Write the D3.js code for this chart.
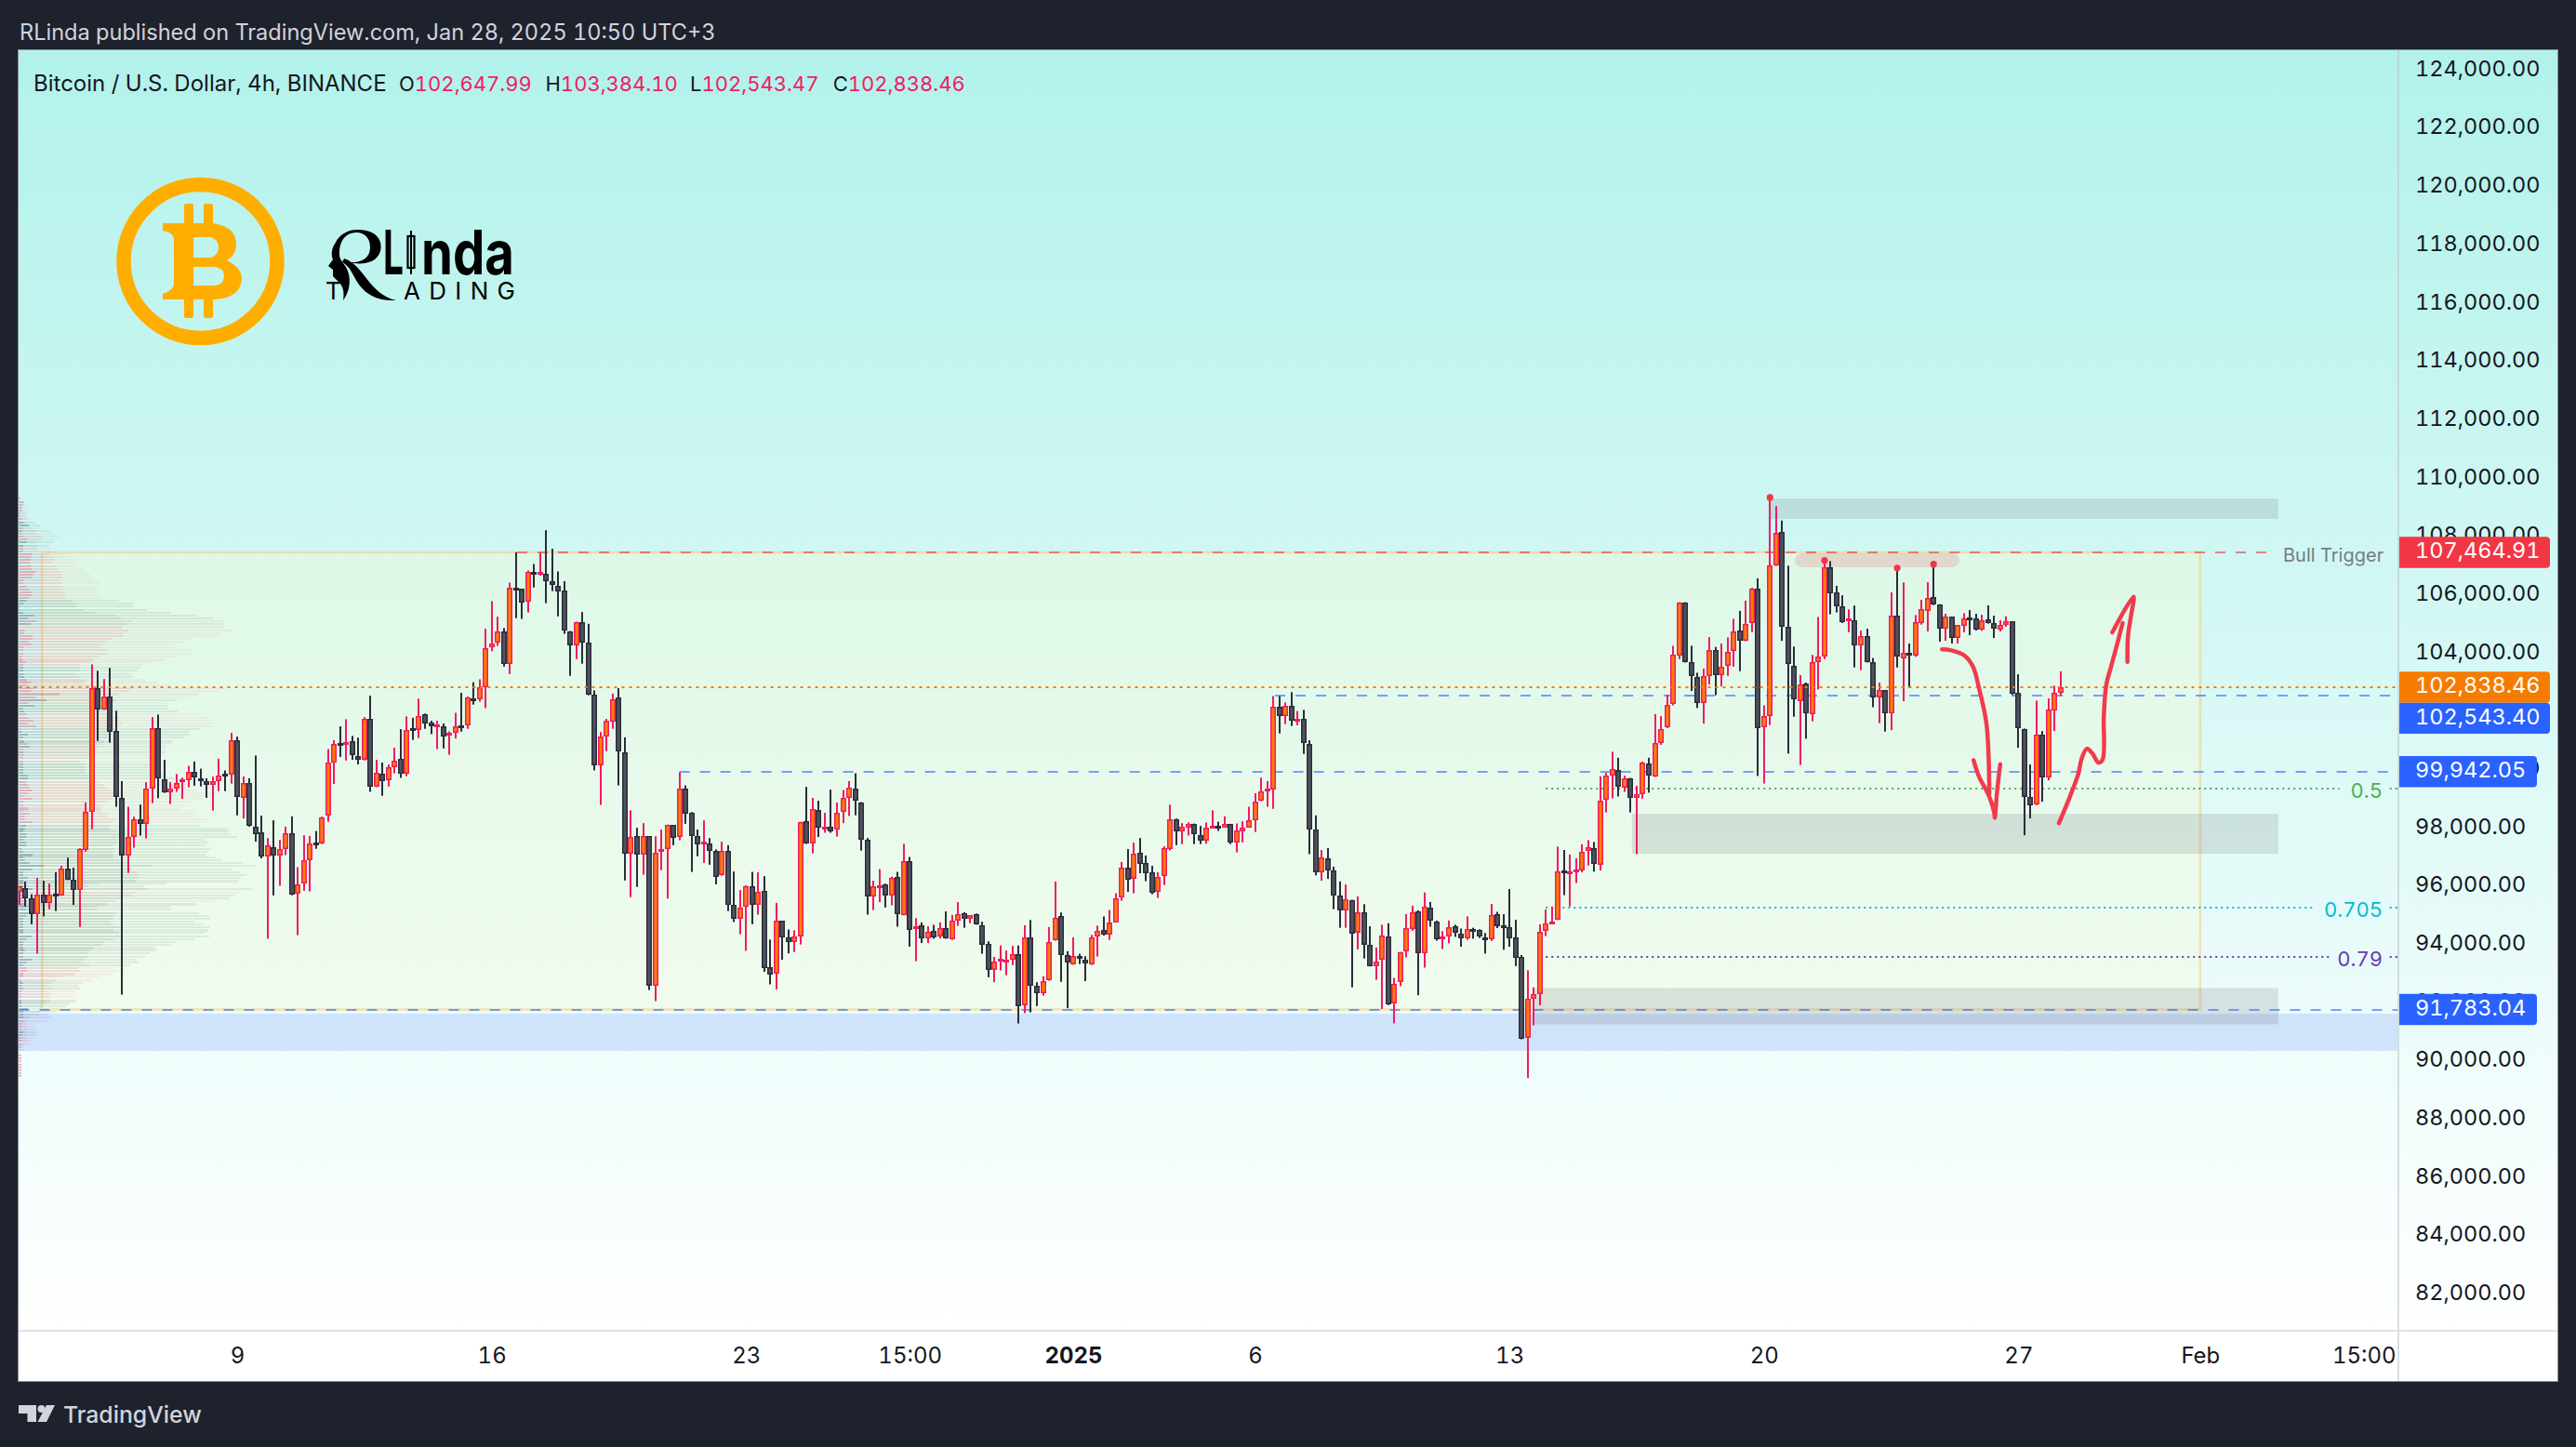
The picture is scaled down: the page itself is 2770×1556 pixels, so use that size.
<!DOCTYPE html>
<html><head><meta charset="utf-8">
<script src="https://cdnjs.cloudflare.com/ajax/libs/d3/7.8.5/d3.min.js"></script>
<style>html,body{margin:0;padding:0;background:#1E222D}svg{display:block}text{font-family:Inter,"Noto Sans",sans-serif;font-variant-numeric:tabular-nums}</style>
</head><body><svg id="c" width="2770" height="1556"></svg>
<script>
const priceTicks=[82000,84000,86000,88000,90000,92000,94000,96000,98000,100000,104000,106000,108000,110000,112000,114000,116000,118000,120000,122000,124000];
const timeTickBars=[36,78,120,147,174,204,246,288,330,360,387];
const timeTickLabels=["9","16","23","15:00","2025","6","13","20","27","Feb","15:00"];
// open, high, low, close per 4h bar
const candles=[
[95807,96015,95368,96015],[95954,96174,95319,95588],[95588,95734,94708,95038],[95038,96296,93695,95710],[95710,96198,94977,95429],[95429,96100,95221,95734],[95760,96491,95160,95747],[95685,96711,95685,96625],[96625,96992,96222,96222],[96222,96650,95368,95868],
[95868,97321,94611,97273],[97260,98884,97199,98579],[98555,103622,97969,102816],[102816,103402,100997,102059],[102059,103121,102059,102511],[102511,103500,100936,101302],[101326,102034,98738,99068],[99031,99617,92291,97077],[97077,98738,96467,97688],[97688,98396,97333,98298],
[98298,98811,97749,98164],[98164,99580,97651,99373],[99348,101815,98860,101424],[101424,101900,99031,99702],[99666,100350,99214,99226],[99226,99580,98835,99348],[99348,99861,99251,99568],[99642,99739,99007,99666],[99654,100142,99409,99947],[99947,100289,99458,99739],
[99727,100044,99434,99642],[99617,99715,99043,99483],[99483,99776,98604,99605],[99605,100386,99275,99812],[99861,99983,99275,99837],[99837,101277,99531,101021],[101009,101143,98445,99068],[99043,99776,98335,99556],[99556,99715,98054,98091],[98066,100496,97541,97785],
[97846,98433,96967,97028],[97028,97663,94208,97419],[97358,98274,95697,97053],[97053,97602,96027,97297],[97297,98054,97077,97834],[97834,98408,95700,95710],[95747,96662,94330,96076],[96100,97761,95856,96894],[96894,97737,95832,97480],[97517,97907,97297,97492],
[97468,98400,97460,98384],[98445,100716,98225,100264],[100252,101021,99519,100899],[100936,101497,100447,100911],[100911,101741,100325,100960],[100997,101168,100350,100496],[100484,101107,100191,100337],[100337,101815,100325,101741],[101741,102547,99251,99421],[99421,100350,99410,99910],
[99885,100252,99116,99629],[99642,100191,99434,100081],[100081,100765,99885,100325],[100374,101400,99727,99861],[99861,101839,99788,101363],[101424,101790,101033,101400],[101363,102450,101094,101851],[101900,101937,101412,101607],[101619,101692,101229,101485],[101546,101692,100716,101570],
[101510,101595,100740,101155],[101168,101326,100520,101265],[101265,101961,101082,101510],[101546,102645,101314,101522],[101522,102523,101412,102498],[102462,103011,102242,102413],[102413,103109,102340,102840],[102853,104843,102120,104171],[104196,105795,104074,104330],[104367,105258,104257,104757],
[104757,104867,103548,103634],[103646,106430,103292,106259],[106259,107468,105209,106210],[106210,106220,105185,105734],[105771,106845,105404,106784],[106784,107065,106259,106760],[106747,107456,106662,106784],[106747,108225,105722,106491],[106491,107590,106137,106357],[106308,106809,105270,106137],
[106149,106479,104672,104794],[104757,104769,103231,104281],[104281,105087,103805,105062],[105087,105417,103646,104367],[104379,105014,102560,102572],[102572,102730,99983,100166],[100166,101302,98799,101155],[101143,101754,100643,101680],[101656,102621,101412,102437],[102474,102804,99470,100630],
[100594,101119,96210,97114],[97138,98616,95636,97688],[97724,98018,95990,97090],[97090,98176,96406,97724],[97724,97730,92450,92584],[92584,97724,92071,97175],[97248,97956,96564,97273],[97273,98127,95588,98103],[98103,98110,97419,97663],[97688,99922,97590,99348],
[99348,99470,98152,98506],[98530,98555,96503,97724],[97724,97956,97041,97431],[97492,98274,96809,97529],[97492,97663,96748,97212],[97212,97273,96076,96320],[96381,97541,96370,97224],[97236,97419,95160,95368],[95380,96516,94782,94880],[94880,95881,94367,95283],
[95307,96040,93793,96015],[96015,96503,94708,95380],[95368,96491,95038,95832],[95856,96357,93072,93195],[93219,94183,92645,92975],[93000,95441,92474,94818],[94818,94830,93488,94244],[94244,94525,93707,94086],[94086,94501,93756,94293],[94293,98220,94012,98213],
[98249,99421,97460,97468],[97468,99043,97138,98665],[98640,98945,97700,98018],[98042,98530,97846,98066],[98042,99324,97846,97883],[97944,98884,97712,98542],[98555,99312,98176,99031],[99031,99617,98420,99397],[99373,99885,98445,98958],[98897,98900,97236,97590],
[97590,97663,95038,95649],[95649,96198,95197,96003],[95966,96601,95465,96052],[96064,96100,95283,95685],[95685,96344,95356,96308],[96344,96503,94623,95063],[95026,97468,95010,96882],[96882,97016,93939,94501],[94538,94916,93439,94648],[94684,94770,94061,94220],
[94220,94635,94061,94452],[94489,94684,94208,94244],[94281,94770,94220,94586],[94586,95148,94208,94220],[94196,95026,94171,94818],[94818,95465,94648,95063],[95075,95124,94586,94904],[94904,95020,94745,95014],[95038,95075,94690,94696],[94684,94794,93695,94012],
[94024,94122,92889,93133],[93133,93585,92718,93427],[93476,93980,93121,93512],[93414,93805,92962,93500],[93500,93964,93304,93695],[93695,93980,91302,91888],[91912,94672,91656,94269],[94269,94855,91680,92608],[92608,92718,91900,92352],[92352,92926,92254,92767],
[92779,94611,92770,94110],[94147,96174,94140,94916],[94977,95111,92731,93646],[93658,93781,91827,93390],[93341,94257,93317,93622],[93610,93695,93341,93512],[93500,93610,92755,93353],[93341,94342,93304,94269],[94281,94660,93598,94489],[94525,94977,94318,94367],
[94367,95197,94171,94757],[94782,95771,94770,95588],[95612,96845,95514,96662],[96662,97285,95820,96247],[96259,97505,95771,97114],[97150,97663,96455,96784],[96796,97065,96186,96467],[96479,96711,95734,95795],[95832,96491,95612,96320],[96357,97382,96052,97309],
[97297,98811,97236,98310],[98298,98335,97419,97883],[97883,98176,97456,98042],[98030,98200,97749,98152],[98152,98160,97456,97785],[97773,98079,97456,97566],[97566,98200,97468,98030],[98066,98616,98030,98091],[98091,98225,97907,98066],[98030,98408,98020,98140],
[98140,98150,97456,97517],[97517,98164,97175,97932],[97907,98237,97517,98030],[98030,98738,98020,98286],[98262,99202,97871,98921],[98933,99739,98925,99275],[99324,99617,98738,99348],[99324,102535,98665,102181],[102157,102535,101253,101839],[101851,102315,101570,102206],
[102206,102669,101510,101680],[101741,102022,101534,101766],[101747,102060,100549,100914],[100888,101018,97112,97971],[97945,98440,96383,96487],[96487,97255,96201,97008],[96982,97320,96266,96552],[96539,96682,95224,95680],[95706,96175,94586,95185],[95185,96070,94586,95550],
[95524,95550,92542,94378],[94430,95667,93844,95107],[95107,95393,93531,94000],[93987,94638,93258,93271],[93271,93909,92802,93440],[93492,94690,91800,94313],[94274,94742,91930,91943],[91982,92868,91305,92672],[92711,93760,92581,93753],[93779,95055,93571,94560],
[94534,95341,94482,95107],[95146,95185,92269,93727],[93727,95797,93219,95315],[95289,95471,94625,94820],[94794,94833,94143,94182],[94248,94469,93857,94274],[94274,94833,94052,94612],[94638,94690,94274,94417],[94391,94560,93935,94222],[94209,94977,94170,94534],
[94534,94586,94209,94508],[94508,94534,94235,94274],[94248,94404,93701,94209],[94182,95406,94130,95016],[95042,95133,94573,94625],[94664,95055,93831,94638],[94599,95914,93935,94235],[94248,94859,93271,93557],[93583,93648,90758,90771],[90810,93128,89430,92138],
[92165,92542,91240,92295],[92308,94703,91930,94456],[94469,95211,94300,94742],[94742,95315,94730,94807],[94859,97372,94850,96513],[96539,97255,95706,96487],[96487,97099,95315,96526],[96539,96969,96122,96578],[96539,97450,96487,97203],[97216,97594,96721,97346],
[97307,97529,96513,96786],[96747,99781,96552,98961],[98987,99898,98544,99794],[99794,100627,99026,100041],[100002,100419,99091,99416],[99377,99807,99247,99716],[99716,99730,98544,99039],[99039,99456,97112,99182],[99169,100289,99013,100250],[100211,100419,99221,99807],
[99768,101916,99760,100914],[100914,101851,100862,101409],[101461,102580,101435,102242],[102255,104260,102216,103947],[103934,105757,103804,105731],[105731,105757,103687,103713],[103713,104260,102711,103231],[103192,103336,102125,102307],[102294,103479,101591,103231],[103218,104559,102932,104104],
[104104,104221,102567,103244],[103244,104338,102867,103544],[103557,104546,103231,104065],[104091,105184,103544,104755],[104794,105458,103388,104442],[104442,105809,104416,105015],[105028,106252,104729,106226],[106226,106577,99794,101435],[101461,102216,99534,101851],[101851,109351,101539,107007],
[107020,109051,107000,108140],[108153,108557,104429,104911],[104898,107007,100562,103622],[103583,104234,101825,102424],[102372,103257,100172,102932],[102958,102997,101070,101955],[101903,103947,101669,103687],[103700,105249,102763,103895],[103882,107189,103804,106968],[106942,107163,105341,106057],
[106096,106317,105406,105601],[105601,105992,105041,105080],[105158,105510,104729,105184],[105145,105640,103518,104260],[104273,104781,103427,104598],[104598,104846,103687,103713],[103713,103843,102151,102476],[102476,102997,101604,102737],[102737,102745,101317,101955],[101942,106096,101369,105302],
[105302,106929,103518,103882],[103817,106434,102359,104013],[104013,104338,102828,103987],[103908,105315,103882,105080],[105039,105837,104986,105518],[105465,106443,104752,105890],[105922,107059,105656,105677],[105677,105690,104401,104858],[104858,105358,104433,105252],[105252,105260,104337,104539],
[104539,104975,104337,104965],[104933,105379,104720,105188],[105220,105486,104624,105188],[105188,105358,104784,104826],[104826,105326,104773,105145],[105156,105645,105020,105028],[105028,105294,104528,104858],[104826,105135,104752,104986],[104975,105273,104911,105092],[105092,105100,102581,102613],
[102634,103283,100762,101421],[101400,101421,97761,99081],[99059,100187,98336,98793],[98815,102379,98793,101198],[101198,101336,98910,99751],[99751,102453,99645,102060],[102028,102890,101336,102634],[102647.99,103384.10,102543.47,102838.46]
];
const swingBars=[289,298,310,316];
const swingPrices=[109351,107189,106929,107059];
// Volume profile: one row per $100 from the top price downward
const profileTopPrice=109300, profileStep=100;
const profilePale=[20,33,38,45,45,48,48,58,70,85,92,115,128,147,135,128,115,120,138,170,188,210,192,198,222,233,248,252,260,276,272,276,270,272,282,338,387,387,428,504,590,645,684,675,678,708,669,651,573,552,516,525,576,570,519,489,453,414,405,396,378,384,426,465,504,
680,660,597,570,525,492,497,497,528,605,633,638,650,638,600,566,566,550,510,510,490,490,490,480,465,460,440,445,440,480,490,520,540,560,570,580,655,648,610,575,550,540,585,590,580,627,620,600,690,695,700,720,620,628,615,635,625,620,650,670,738,780,700,730,750,730,725,
490,420,768,728,714,695,645,588,505,510,597,630,632,582,612,632,627,615,630,582,522,507,456,460,440,422,396,402,375,326,347,312,276,252,222,207,213,198,204,200,200,180,170,110,135,110,120,105,70,66,72,72,72,60,60,50,33,33,18,24,24,24,24,24,24,24,24];
const profileMid=[20,33,28,28,28,36,36,40,42,48,55,70,75,90,90,72,75,75,82,115,130,132,122,135,138,150,155,156,145,153,155,162,162,165,168,190,210,200,225,267,327,345,378,363,348,369,351,354,315,300,288,279,303,300,273,258,245,216,210,213,198,210,234,228,250,
375,370,338,320,330,300,300,285,280,320,340,340,348,340,330,310,300,300,290,288,270,265,260,255,250,213,230,230,230,230,260,260,270,290,300,320,340,340,320,300,280,280,280,300,300,330,320,310,310,330,350,340,330,333,320,325,320,320,320,340,370,444,380,400,405,400,395,
270,240,432,396,378,350,330,300,270,265,330,322,320,312,320,342,322,340,345,322,288,285,255,243,240,240,228,222,245,205,212,195,158,135,120,110,130,110,118,115,118,105,90,45,85,80,50,45,40,40,45,42,42,40,40,35,25,22,18,24,24,24,24,24,24,24,24];
const profileInner=[20,30,28,25,25,20,20,25,30,48,30,25,25,30,42,40,30,30,28,60,55,55,50,55,58,70,62,58,33,30,40,48,58,58,50,40,30,20,20,30,66,45,72,55,15,33,33,60,60,48,57,30,30,30,27,28,40,30,30,30,30,33,42,55,40,
65,55,147,70,105,45,65,30,33,40,45,62,45,72,20,24,45,30,33,45,50,30,30,33,30,30,30,30,30,30,45,45,40,45,50,60,45,30,60,30,30,45,30,50,35,33,60,40,35,30,40,40,30,40,40,25,30,60,30,35,50,95,60,30,30,45,30,
30,30,60,40,30,30,45,40,45,40,45,40,30,30,30,30,30,30,57,40,30,30,30,35,30,30,57,40,30,40,40,30,30,24,30,25,30,24,24,24,24,24,24,45,30,30,30,30,24,24,24,30,24,24,24,24,20,18,18,24,24,24,24,24,24,24,24];
const profileKind="pppppppp"+"ggpgppp"+"gg"+"pppppppppppppppppp"+"ggg"+"gggg"+"pgPppppppppppPpp"+"ggggPpp"+"ppPpg"+"pgggpppppggggGpgpgppp"+"gggggg"+"ppppppppp"+"Pppppp"+"gGggggggggGgggggg"+"ggGgggpggpGggggggggGgggggGggggggppPpPgg"+"gpppGggggggppppggpp"+"pp"+"pppppppppp"+"pp";
const priceLabelText=["107,464.91","102,838.46","102,543.40","99,942.05","91,783.04"];
const priceLabelValue=[107464.91,102838.46,102543.40,99942.05,91783.04];
const priceLabelColor=["#F23645","#F57C00","#2962FF","#2962FF","#2962FF"];
const priceLabelRight=[2742,2742,2742,2728,2728];
const fibLevels=["0.5","0.705","0.79"];
const fibPrices=[99360,95276,93591];
const fibColors=["#4CAF50","#00BCD4","#673AB7"];
const fibEndBars=[383,378.6,381.3];
const zones=[[289.1,372.9,109316,108614],[266.2,372.9,98499,97127],[249.8,372.9,92513,91275]];
const arrowShaft1=[[317.4,104135],[318.9,104103],[321.1,103922],[322.5,103549],[323.5,102805],[324.7,101634],[325.1,100357],[325.2,99187]];
const arrowHead1=[[322.6,100336],[323.5,99772],[325.1,99134],[326,98549],[326.1,98357],[326.5,99293],[327,100198]];
const arrowShaft2=[[336.7,98176],[338.6,99134],[339.9,99879],[340.4,100357],[341.3,100730],[342.2,100570],[343.2,100251],[343.9,100357],[344.1,101847],[344.5,102911],[345.3,103549],[346.2,104241],[347.2,105039]];
const arrowHead2=[[345.5,104720],[349,105943],[348.6,105305],[348.1,104613],[348,103709]];

const svg=d3.select("#c");
const L=20,T=54,R=2750,B=1485,AX=2578,TAX=1431;
const x=d3.scaleLinear().domain([0,337]).range([20.5,2216]);
const y=d3.scaleLinear().domain([107464.91,91783.04]).range([594,1085.5]);
const vx=d3.scaleLinear().domain([0,780]).range([15,275]);
const defs=svg.append("defs");
const g=defs.append("linearGradient").attr("id","bg").attr("x1",0).attr("x2",0).attr("y1",0).attr("y2",1);
g.append("stop").attr("offset",0).attr("stop-color","#B2F2EB");
g.append("stop").attr("offset",1).attr("stop-color","#FFFFFF");
defs.append("clipPath").attr("id","pane").append("rect").attr("x",L).attr("y",T).attr("width",AX-L).attr("height",TAX-T);
svg.append("rect").attr("width",2770).attr("height",1556).attr("fill","#1E222D");
svg.append("rect").attr("x",L).attr("y",T).attr("width",R-L).attr("height",TAX-T).attr("fill","url(#bg)");
svg.append("rect").attr("x",L).attr("y",TAX).attr("width",R-L).attr("height",B-TAX).attr("fill","#fff");
svg.append("rect").attr("x",L-.5).attr("y",T-.5).attr("width",R-L+1).attr("height",B-T+1).attr("fill","none").attr("stroke","#8A8D96").attr("stroke-width",1);

const pane=svg.append("g").attr("clip-path","url(#pane)");
// blue support band
pane.append("rect").attr("x",L).attr("width",AX-L).attr("y",y(91638)).attr("height",y(90362)-y(91638)).attr("fill","#CFE3FB");
// long-term range box
pane.append("rect").attr("x",x(3.8)).attr("width",x(360)-x(3.8)).attr("y",y(107464.91)).attr("height",y(91783.04)-y(107464.91))
 .attr("fill","rgba(255,250,205,.28)").attr("stroke","rgba(240,205,130,.55)").attr("stroke-width",2.5);
// volume profile
const profileRows=d3.range(profilePale.length);
const rowY=i=>Math.round(y(profileTopPrice-i*profileStep));
const pcol=(k,lvl)=>{const up=k==="g"||k==="G";return up?["rgba(70,95,90,.1)","rgba(70,95,90,.1)","rgba(50,70,80,.25)"][lvl]:["rgba(242,54,69,.06)","rgba(242,54,69,.11)","rgba(225,40,80,.22)"][lvl];};
const pg=pane.append("g");
[profilePale,profileMid,profileInner].forEach((arr,lvl)=>{
 pg.selectAll(null).data(profileRows).join("rect")
  .attr("x",20.5).attr("y",i=>rowY(i)-1).attr("height",i=>(profileKind[i]==="P"||profileKind[i]==="G")?3:2)
  .attr("width",i=>Math.max(0,vx(arr[i])-20.5)).attr("fill",i=>pcol(profileKind[i]||"g",lvl));
});
// grey zones
pane.selectAll(null).data(zones).join("rect").attr("x",d=>x(d[0])).attr("width",d=>x(d[1])-x(d[0])).attr("y",d=>y(d[2])).attr("height",d=>y(d[3])-y(d[2])).attr("fill","rgba(120,123,134,.2)");
pane.append("rect").attr("x",x(293.1)).attr("width",x(320.3)-x(293.1)).attr("y",y(107433)).attr("height",y(106954)-y(107433)).attr("rx",8).attr("fill","rgba(242,54,69,.17)");
// horizontal levels
const hl=(b0,b1,p,col,dash,w)=>pane.append("line").attr("x1",x(b0)).attr("x2",x(b1)).attr("y1",Math.round(y(p))).attr("y2",Math.round(y(p))).attr("stroke",col).attr("stroke-width",w||2).attr("stroke-dasharray",dash);
hl(82.2,372.4,107464.91,"rgba(242,54,69,.62)","11 11");
hl(207.3,392.6,102543.40,"rgba(41,98,255,.6)","11 11");
hl(109,392.6,99942.05,"rgba(41,98,255,.6)","11 11");
hl(0,392.6,91783.04,"rgba(41,98,255,.6)","11 11");
fibPrices.forEach((p,i)=>{hl(252,fibEndBars[i],p,fibColors[i],"2 4");hl(391.3,392.6,p,fibColors[i],"2 4");
 pane.append("text").attr("x",2562).attr("y",y(p)+2).attr("dy",".35em").attr("text-anchor","end").attr("font-size",22).attr("fill",fibColors[i]).text(fibLevels[i]);});
pane.append("text").attr("x",2455).attr("y",597).attr("dy",".35em").attr("font-size",20).attr("fill","#787B86").text("Bull Trigger");
// candles
const cg=pane.append("g");
candles.forEach((d,i)=>{
 const [o,h,l,c]=d,up=c>=o,X=Math.round(x(i)),bc=up?"#F01C60":"#2A2E39",fc=up?"#FF7F00":"#50535E";
 cg.append("rect").attr("x",X-1).attr("width",2).attr("y",y(h)).attr("height",Math.max(1,y(l)-y(h))).attr("fill",bc);
 const t=Math.round(y(Math.max(o,c))),b=Math.round(y(Math.min(o,c))),H=Math.max(3,b-t);
 cg.append("rect").attr("x",X-3).attr("width",6).attr("y",t).attr("height",H).attr("fill",bc);
 if(H>3)cg.append("rect").attr("x",X-1.5).attr("width",3).attr("y",t+1.5).attr("height",H-3).attr("fill",fc);
});
hl(0,392.6,102838.46,"#F57C00","3 5");
pane.selectAll(null).data(swingBars).join("circle").attr("cx",b=>x(b)).attr("cy",(b,i)=>y(swingPrices[i])).attr("r",3.6).attr("fill","#F23645");
// red hand-drawn arrows
const ln=d3.line().x(d=>x(d[0])).y(d=>y(d[1])).curve(d3.curveCatmullRom);
[arrowShaft1,arrowHead1,arrowShaft2,arrowHead2].forEach(a=>pane.append("path").attr("d",ln(a)).attr("fill","none").attr("stroke","#F23A4C").attr("stroke-width",4.5).attr("stroke-linecap","round").attr("stroke-linejoin","round"));
// separators
svg.append("rect").attr("x",AX).attr("y",T).attr("width",2).attr("height",B-T).attr("fill","rgba(190,200,205,.6)");
svg.append("rect").attr("x",L).attr("y",TAX-1).attr("width",R-L).attr("height",2).attr("fill","#E0E3E6");
// price axis
const ya=d3.axisRight(y).tickValues(priceTicks).tickFormat(d3.format(",.2f")).tickSize(0).tickPadding(0);
const yg=svg.append("g").attr("transform","translate(2597,-2)").call(ya);
yg.select(".domain").remove();
yg.selectAll("text").attr("font-size",23.5).attr("fill","#131722").style("font-family","Inter");
// time axis
const xa=d3.axisBottom(x).tickValues(timeTickBars).tickFormat((d,i)=>timeTickLabels[i]).tickSize(0).tickPadding(0);
const xg=svg.append("g").attr("transform","translate(0,1449)").call(xa);
xg.select(".domain").remove();
xg.selectAll("text").attr("font-size",24).attr("fill","#131722").style("font-family","Inter").attr("font-weight",(d,i)=>timeTickLabels[i]==="2025"?700:400);
// price labels: stacked when they would collide
let prevCentre=-1e9;
priceLabelText.forEach((t,i)=>{
 let p=y(priceLabelValue[i]);
 if(p-prevCentre<33.4)p=prevCentre+33.4;
 prevCentre=p;
 const w=priceLabelRight[i]-2580;
 svg.append("path").attr("d",`M2580,${p-16.7}H${2580+w-4}q4,0 4,4V${p+12.7}q0,4 -4,4H2580Z`).attr("fill",priceLabelColor[i]);
 svg.append("text").attr("x",2597).attr("y",p-2).attr("dy",".35em").attr("font-size",23.5).attr("fill","#fff").text(t);
});
// header
svg.append("text").attr("x",21).attr("y",35).attr("dy",".35em").attr("font-size",23.55).attr("fill","#D1D4DC").text("RLinda published on TradingView.com, Jan 28, 2025 10:50 UTC+3");
const hy=90;
svg.append("text").attr("x",36).attr("y",hy).attr("dy",".35em").attr("font-size",24).attr("fill","#131722").text("Bitcoin / U.S. Dollar, 4h, BINANCE");
[["O","102,647.99",429],["H","103,384.10",586.5],["L","102,543.47",742],["C","102,838.46",895.7]].forEach(r=>{
 const t=svg.append("text").attr("x",r[2]).attr("y",hy).attr("dy",".35em").attr("font-size",22).attr("fill","#131722");
 t.append("tspan").text(r[0]);t.append("tspan").attr("fill","#F01C60").text(r[1]);
});
// logos
const lg=svg.append("g");
lg.append("circle").attr("cx",215.5).attr("cy",281).attr("r",82.5).attr("fill","none").attr("stroke","#FFAE00").attr("stroke-width",15.5);
lg.append("path").attr("fill","#FFAE00").attr("fill-rule","evenodd").attr("d","M175,240 L228,240 Q254,243 254,263 Q254,274 244,280 Q260,288 260,300 Q258,322 228,322 L175,322 L175,316 Q187,312 187,305 L187,258 Q187,250 175,248 Z M208,255 H226 Q235,257 235,266 Q235,275 226,277 H208 Z M208,287 H232 Q241,289 241,297 Q241,305 232,307 H208 Z");
[[198,208],[219,229]].forEach(b=>{lg.append("rect").attr("x",b[0]).attr("y",219).attr("width",b[1]-b[0]).attr("height",23).attr("rx",2).attr("fill","#FFAE00");lg.append("rect").attr("x",b[0]).attr("y",320).attr("width",b[1]-b[0]).attr("height",22).attr("rx",2).attr("fill","#FFAE00");});
lg.append("path").attr("fill","#000").attr("fill-rule","evenodd").attr("d","M360,282 C354,262 366,247 385,247 C404,247 412,258 409,270 C405,284 388,285 374,282 C388,283 398,278 398,266 C398,254 390,250 383,250 C370,250 362,262 366,282 Z");
lg.append("path").attr("fill","#000").attr("d","M370,278 C392,285 396,316 426,323 C400,324 388,312 380,296 C376,288 372,284 368,282 Z M360,262 C355,270 357,277 358,279 L353,286 L358,290 L358,297 C363,303 372,306 369,323 C377,312 378,298 372,287 C366,280 363,272 360,262 Z");
lg.append("text").attr("x",412).attr("y",295).attr("font-size",66).attr("font-weight",700).attr("font-family","Noto Sans").attr("fill","#000").attr("textLength",22).attr("lengthAdjust","spacingAndGlyphs").text("L");
lg.append("rect").attr("x",441).attr("y",248).attr("width",2).attr("height",47).attr("fill","#000");
lg.append("rect").attr("x",438.5).attr("y",254).attr("width",7).attr("height",34).attr("fill","#fff").attr("fill-opacity",0).attr("stroke","#000").attr("stroke-width",2.2);
lg.append("text").attr("x",453).attr("y",295).attr("font-size",66).attr("font-weight",700).attr("font-family","Noto Sans").attr("fill","#000").attr("textLength",100).attr("lengthAdjust","spacingAndGlyphs").text("nda");
lg.append("text").attr("x",350).attr("y",322).attr("font-size",26).attr("font-family","Open Sans").attr("fill","#000").text("T");
lg.append("text").attr("x",434).attr("y",322).attr("font-size",26).attr("font-family","Open Sans").attr("fill","#000").attr("textLength",120).text("ADING");
// TradingView footer
const tv=svg.append("g").attr("fill","#D1D4DC");
tv.append("path").attr("d","M20,1511 H39 V1529 H29.5 V1520 H20 Z");
tv.append("circle").attr("cx",44.5).attr("cy",1515).attr("r",4);
tv.append("path").attr("d","M50,1511 H59 L50,1529 H40.5 Z");
svg.append("text").attr("x",68).attr("y",1521.5).attr("dy",".35em").attr("font-size",24.8).attr("font-weight",500).attr("fill","#D1D4DC").text("TradingView");
</script></body></html>
